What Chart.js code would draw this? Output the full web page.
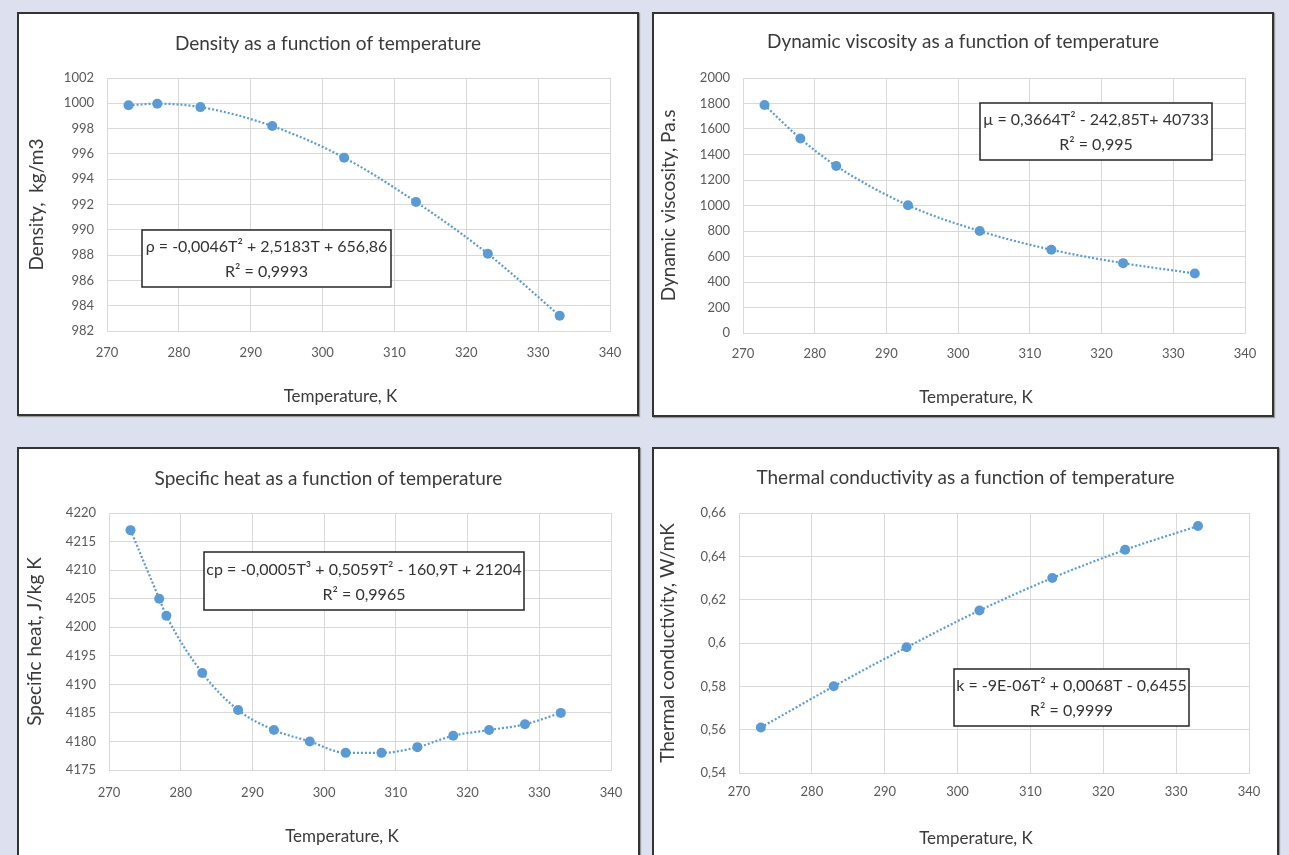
<!DOCTYPE html>
<html>
<head>
<meta charset="utf-8">
<title>Water properties vs temperature</title>
<script src="https://cdn.jsdelivr.net/npm/chart.js@4.4.0/dist/chart.umd.min.js"></script>
<style>
  html, body { margin: 0; padding: 0; }
  body { width: 1289px; height: 855px; background: #dde1ef; position: relative; overflow: hidden; font-family: Lato, sans-serif; }
  .panel { position: absolute; box-sizing: border-box; border: 2px solid #333; background: #fff; box-shadow: 1px 1px 1px #9a9a9a; }
  .panel canvas { display: block; }
</style>
</head>
<body>
<div class="panel" style="left:17px;top:12px;width:622px;height:404px"><canvas id="density" width="618" height="400"></canvas></div>
<div class="panel" style="left:652px;top:12px;width:622px;height:405px"><canvas id="viscosity" width="618" height="401"></canvas></div>
<div class="panel" style="left:17px;top:447px;width:623px;height:420px"><canvas id="heat" width="619" height="406"></canvas></div>
<div class="panel" style="left:652px;top:447px;width:627px;height:420px"><canvas id="conduct" width="623" height="406"></canvas></div>

<script>
// measured values, temperature in K
const densityT = [273, 277, 283, 293, 303, 313, 323, 333];
const densityVal = [999.84, 999.97, 999.7, 998.2, 995.7, 992.2, 988.1, 983.2];

const viscosityT = [273, 278, 283, 293, 303, 313, 323, 333];
const viscosityVal = [1788, 1525, 1310, 1002, 800, 653, 548, 467];

const heatT = [273, 277, 278, 283, 288, 293, 298, 303, 308, 313, 318, 323, 328, 333];
const heatVal = [4217, 4205, 4202, 4192, 4185.5, 4182, 4180, 4178, 4178, 4179, 4181, 4182, 4183, 4185];

const conductT = [273, 283, 293, 303, 313, 323, 333];
const conductVal = [0.561, 0.580, 0.598, 0.615, 0.630, 0.643, 0.654];

// axis ticks
const tempTicks = [270, 280, 290, 300, 310, 320, 330, 340];
const densityTicks = [982, 984, 986, 988, 990, 992, 994, 996, 998, 1000, 1002];
const viscosityTicks = [0, 200, 400, 600, 800, 1000, 1200, 1400, 1600, 1800, 2000];
const heatTicks = [4175, 4180, 4185, 4190, 4195, 4200, 4205, 4210, 4215, 4220];
const conductTicks = [0.54, 0.56, 0.58, 0.6, 0.62, 0.64, 0.66];

const BLUE = '#5b9bd5';
const GRID = '#d9d9d9';
const FONT = 'Lato';

// caption under the x axis and the trendline equation box
const annotations = {
  id: 'annotations',
  afterDraw(chart, args, opts) {
    const { ctx, chartArea } = chart;
    ctx.save();
    ctx.textAlign = 'center';
    ctx.textBaseline = 'middle';
    ctx.fillStyle = '#3a3a3a';
    ctx.font = '17px ' + FONT;
    ctx.fillText(opts.xTitle, (chartArea.left + chartArea.right) / 2 - 18, opts.xTitleY);

    const b = opts.box;
    ctx.fillStyle = '#fff';
    ctx.fillRect(b.x, b.y, b.w, b.h);
    ctx.strokeStyle = '#262626';
    ctx.lineWidth = 1.5;
    ctx.strokeRect(b.x, b.y, b.w, b.h);
    ctx.fillStyle = '#333';
    ctx.font = '16px ' + FONT;
    ctx.fillText(opts.equation[0], b.x + b.w / 2, b.y + b.h * 0.3);
    ctx.fillText(opts.equation[1], b.x + b.w / 2, b.y + b.h * 0.74);
    ctx.restore();
  }
};

function makeChart(id, xs, ys, yTicks, text, geo) {
  const points = xs.map((x, i) => ({ x: x, y: ys[i] }));
  const titleTop = geo.titleY - 11.4;
  // same padding on both sides keeps the chart title centred on the panel
  const side = geo.padRight;
  new Chart(document.getElementById(id), {
    type: 'scatter',
    data: {
      datasets: [{
        data: points,
        showLine: true,
        borderColor: BLUE,
        borderWidth: 2.2,
        borderDash: [2, 2],
        tension: 0.4,
        cubicInterpolationMode: 'monotone',
        pointRadius: 5,
        pointBackgroundColor: BLUE,
        pointBorderColor: BLUE,
        pointBorderWidth: 0
      }]
    },
    options: {
      responsive: false,
      animation: false,
      layout: { padding: { left: side, right: side, top: 0, bottom: 0 } },
      plugins: {
        legend: { display: false },
        tooltip: { enabled: false },
        title: {
          display: true,
          text: text.title,
          color: '#3a3a3a',
          font: { family: FONT, size: 19, weight: 'normal' },
          padding: { top: titleTop, bottom: 64 - titleTop - 22.8 }
        },
        annotations: {
          xTitle: 'Temperature, K',
          xTitleY: geo.xTitleY,
          box: geo.box,
          equation: text.equation
        }
      },
      scales: {
        x: {
          type: 'linear',
          min: tempTicks[0],
          max: tempTicks[tempTicks.length - 1],
          afterBuildTicks: s => { s.ticks = tempTicks.map(v => ({ value: v })); },
          afterFit: s => { s.height = geo.xAxisH; },
          grid: { color: GRID, drawTicks: false },
          border: { color: GRID },
          ticks: {
            color: '#595959',
            font: { family: FONT, size: 13 },
            padding: geo.xTickGap - 7.8,
            maxRotation: 0
          }
        },
        y: {
          type: 'linear',
          min: yTicks[0],
          max: yTicks[yTicks.length - 1],
          afterBuildTicks: s => { s.ticks = yTicks.map(v => ({ value: v })); },
          afterFit: s => { s.width = geo.plotLeft - side; },
          grid: { color: GRID, drawTicks: false },
          border: { color: GRID },
          ticks: {
            color: '#595959',
            font: { family: FONT, size: 13 },
            padding: 13,
            callback: v => String(v).replace('.', ',')
          },
          title: {
            display: true,
            text: text.yTitle,
            color: '#3a3a3a',
            font: { family: FONT, size: 19 },
            padding: { top: geo.yTitleX - side - 11.4, bottom: 0 }
          }
        }
      }
    },
    plugins: [annotations]
  });
}

makeChart('density', densityT, densityVal, densityTicks, {
  title: 'Density as a function of temperature',
  yTitle: 'Density,  kg/m3',
  equation: ['ρ = -0,0046T² + 2,5183T + 656,86', 'R² = 0,9993']
}, { plotLeft: 88, padRight: 27, xAxisH: 83, titleY: 30, yTitleX: 18, xTickGap: 22, xTitleY: 383,
     box: { x: 123, y: 216, w: 249, h: 57 } });

makeChart('viscosity', viscosityT, viscosityVal, viscosityTicks, {
  title: 'Dynamic viscosity as a function of temperature',
  yTitle: 'Dynamic viscosity, Pa.s',
  equation: ['µ = 0,3664T² - 242,85T+ 40733', 'R² = 0,995']
}, { plotLeft: 89, padRight: 27, xAxisH: 82, titleY: 28, yTitleX: 15, xTickGap: 21, xTitleY: 384,
     box: { x: 326, y: 89, w: 232, h: 57 } });

makeChart('heat', heatT, heatVal, heatTicks, {
  title: 'Specific heat as a function of temperature',
  yTitle: 'Specific heat, J/kg K',
  equation: ['cp = -0,0005T³ + 0,5059T² - 160,9T + 21204', 'R² = 0,9965']
}, { plotLeft: 90, padRight: 27, xAxisH: 85, titleY: 30, yTitleX: 16, xTickGap: 23, xTitleY: 388,
     box: { x: 185, y: 103, w: 320, h: 58 } });

makeChart('conduct', conductT, conductVal, conductTicks, {
  title: 'Thermal conductivity as a function of temperature',
  yTitle: 'Thermal conductivity, W/mK',
  equation: ['k = -9E-06T² + 0,0068T - 0,6455', 'R² = 0,9999']
}, { plotLeft: 85, padRight: 28, xAxisH: 82, titleY: 29, yTitleX: 14, xTickGap: 19, xTitleY: 390,
     box: { x: 300, y: 220, w: 235, h: 57 } });
</script>
</body>
</html>
